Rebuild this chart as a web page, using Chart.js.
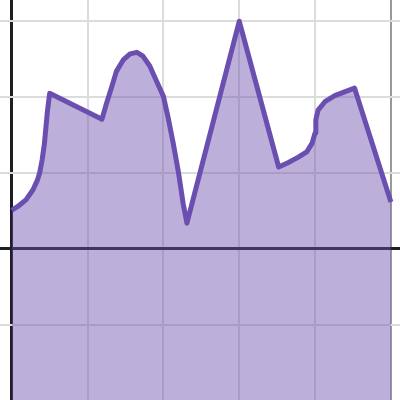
<!DOCTYPE html>
<html>
<head>
<meta charset="utf-8">
<script src="https://cdn.jsdelivr.net/npm/chart.js@4/dist/chart.umd.min.js"></script>
<style>
	html, body { margin: 0; padding: 0; background: #fff; }
	#wrap { width: 400px; height: 400px; }
</style>
</head>
<body>
<div id="wrap"><canvas id="areaChart" width="400" height="400"></canvas></div>
<script>
// points (x, y in grid units)
var xValues = [0, 0.08, 0.19, 0.28, 0.34, 0.37, 0.40, 0.43, 0.47, 0.50,
	1.19, 1.25, 1.32, 1.38, 1.47, 1.56, 1.65, 1.73, 1.82, 1.91, 2.0, 2.06, 2.13, 2.20, 2.26, 2.31,
	3.0,
	3.52, 3.65, 3.78, 3.89, 3.96, 4.0, 4.01, 4.04, 4.13, 4.26, 4.39, 4.52,
	5.0];
var yValues = [0.51, 0.56, 0.65, 0.78, 0.91, 1.01, 1.17, 1.38, 1.81, 2.05,
	1.71, 1.92, 2.14, 2.34, 2.49, 2.57, 2.59, 2.54, 2.41, 2.21, 2.01, 1.74, 1.39, 1.0, 0.60, 0.34,
	3.0,
	1.08, 1.14, 1.21, 1.28, 1.39, 1.53, 1.70, 1.83, 1.94, 2.02, 2.07, 2.12,
	0.62];

var lineColor = '#6a4fb0';
var fillColor = 'rgba(106, 79, 176, 0.45)';

var points = [];
for (var i = 0; i < xValues.length; i++) {
	points.push({ x: xValues[i], y: yValues[i] });
}

var gridColorFn = function(ctx) {
	if (ctx.tick && ctx.tick.value === 0) return '#1e1e24';
	return '#dcdcdc';
};
var gridWidthFn = function(ctx) {
	if (ctx.tick && ctx.tick.value === 0) return 3;
	return 2;
};

var chartSet = new Chart(document.getElementById('areaChart'), {
	type: 'line',
	data: {
		datasets: [{
			data: points,
			borderColor: lineColor,
			backgroundColor: fillColor,
			borderWidth: 5,
			borderJoinStyle: 'round',
			fill: 'start',
			tension: 0,
			pointRadius: 0,
			pointHoverRadius: 0
		}]
	},
	options: {
		responsive: false,
		animation: false,
		layout: { padding: 0 },
		plugins: {
			legend: { display: false },
			tooltip: { enabled: false }
		},
		scales: {
			x: {
				type: 'linear',
				min: -0.155,
				max: 5.12,
				border: { display: false },
				ticks: { display: false, stepSize: 1, includeBounds: false },
				grid: {
					color: function(ctx) {
						if (ctx.tick && ctx.tick.value === 5) return '#999999';
						return gridColorFn(ctx);
					},
					lineWidth: gridWidthFn,
					drawTicks: false
				}
			},
			y: {
				type: 'linear',
				min: -1.99,
				max: 3.28,
				border: { display: false },
				ticks: { display: false, stepSize: 1, includeBounds: false },
				grid: {
					color: gridColorFn,
					lineWidth: gridWidthFn,
					drawTicks: false
				}
			}
		}
	}
});
</script>
</body>
</html>
